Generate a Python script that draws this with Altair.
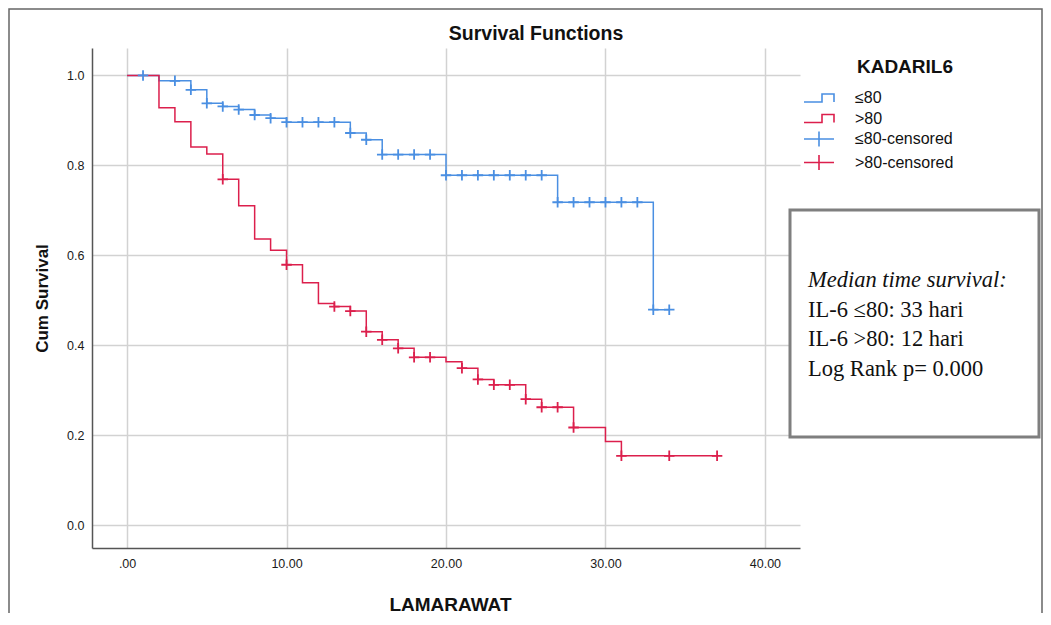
import altair as alt
import pandas as pd

# ---- data ----
blue_time = [0, 2, 4, 5, 6, 7, 8, 9, 10, 14, 15, 16, 20, 27, 33, 34]
blue_surv = [1.0, 0.988, 0.968, 0.938, 0.931, 0.924, 0.912, 0.905, 0.896, 0.872,
             0.857, 0.824, 0.778, 0.718, 0.479, 0.479]
blue_cens_time = [1, 3, 4, 5, 6, 7, 8, 9, 10, 11, 12, 13, 14, 15, 16, 17, 18, 19,
                  20, 21, 22, 23, 24, 25, 26, 27, 28, 29, 30, 31, 32, 33, 34]
blue_cens_surv = [1.0, 0.988, 0.968, 0.938, 0.931, 0.924, 0.912, 0.905, 0.896, 0.896,
                  0.896, 0.896, 0.872, 0.857, 0.824, 0.824, 0.824, 0.824,
                  0.778, 0.778, 0.778, 0.778, 0.778, 0.778, 0.778, 0.718, 0.718, 0.718,
                  0.718, 0.718, 0.718, 0.479, 0.479]

red_time = [0, 2, 3, 4, 5, 6, 7, 8, 9, 10, 11, 12, 13, 14, 15, 16, 17, 18, 20, 21,
            22, 23, 25, 26, 28, 30, 31, 37]
red_surv = [1.0, 0.928, 0.897, 0.841, 0.825, 0.769, 0.710, 0.636, 0.611, 0.579, 0.539,
            0.493, 0.486, 0.476, 0.430, 0.412, 0.393, 0.373, 0.363, 0.349, 0.324, 0.312,
            0.280, 0.262, 0.217, 0.186, 0.154, 0.154]
red_cens_time = [6, 10, 13, 14, 15, 16, 17, 18, 19, 21, 22, 23, 24, 25, 26, 27, 28, 31, 34, 37]
red_cens_surv = [0.769, 0.579, 0.486, 0.476, 0.430, 0.412, 0.393, 0.373, 0.373, 0.349,
                 0.324, 0.312, 0.312, 0.280, 0.262, 0.262, 0.217, 0.154, 0.154, 0.154]

legend_labels = ["≤80", ">80", "≤80-censored", ">80-censored"]
x_ticks = [0, 10, 20, 30, 40]
y_ticks = [0.0, 0.2, 0.4, 0.6, 0.8, 1.0]
box_title = "Median time survival:"
box_lines = ["IL-6 ≤80: 33 hari", "IL-6 >80: 12 hari", "Log Rank p= 0.000"]

# ---- styles ----
BLUE = "#4a8fe2"
RED = "#dc1f4c"
SANS = "Liberation Sans, Arial, sans-serif"
SERIF = "Liberation Serif, Times New Roman, serif"
CROSS = "M-1,0L1,0M0,-1L0,1"
STEP_SYM = "M-1.5,0.4L0.3,0.4L0.3,-0.4L1.5,-0.4L1.5,0.4"
CROSS_SYM = "M-1.5,0L1.5,0M0,-0.75L0,0.75"

W, H = 708, 500

xscale = alt.Scale(domain=[-2.2, 42.2], nice=False, zero=False)
yscale = alt.Scale(domain=[-0.051, 1.061], nice=False, zero=False)

xaxis = alt.Axis(
    values=x_ticks,
    labelExpr="datum.value == 0 ? '.00' : format(datum.value, '.2f')",
    grid=True, ticks=False, labelPadding=9,
    labelFont=SANS, labelFontSize=12.5, labelColor="#1a1a1a",
    title="LAMARAWAT", titleFont=SANS, titleFontSize=19, titleFontWeight="bold",
    titleColor="#111111", titleX=358, titleY=62, titleBaseline="alphabetic",
    titleAlign="center",
)
yaxis = alt.Axis(
    values=y_ticks, format=".1f",
    grid=True, ticks=False, labelPadding=8,
    labelFont=SANS, labelFontSize=12.5, labelColor="#1a1a1a",
    title="Cum Survival", titleFont=SANS, titleFontSize=17, titleFontWeight="bold",
    titleColor="#111111", titleX=-45, titleY=250, titleAngle=270,
    titleBaseline="alphabetic", titleAlign="center",
)


def enc(chart):
    return chart.encode(
        x=alt.X("t:Q", scale=xscale, axis=xaxis),
        y=alt.Y("s:Q", scale=yscale, axis=yaxis),
    )


df_blue = pd.DataFrame({"t": blue_time, "s": blue_surv})
df_red = pd.DataFrame({"t": red_time, "s": red_surv})
df_bc = pd.DataFrame({"t": blue_cens_time, "s": blue_cens_surv})
df_rc = pd.DataFrame({"t": red_cens_time, "s": red_cens_surv})

blue_line = enc(alt.Chart(df_blue).mark_line(interpolate="step-after", color=BLUE, strokeWidth=1.5))
red_line = enc(alt.Chart(df_red).mark_line(interpolate="step-after", color=RED, strokeWidth=1.5))
blue_pts = enc(alt.Chart(df_bc).mark_point(shape=CROSS, filled=False, size=110, strokeWidth=1.8,
                                           color=BLUE, opacity=1))
red_pts = enc(alt.Chart(df_rc).mark_point(shape=CROSS, filled=False, size=110, strokeWidth=1.8,
                                          color=RED, opacity=1))

df_leg = pd.DataFrame({"label": legend_labels})
legend = alt.Legend(
    orient="none", legendX=716, legendY=10, padding=0,
    title="KADARIL6", titleFont=SANS, titleFontSize=19, titleFontWeight="bold",
    titleColor="#111111", titleAnchor="end", titlePadding=10,
    labelFont=SANS, labelFontSize=16, labelColor="#111111", labelOffset=25,
    symbolSize=400, symbolStrokeWidth=1.6, symbolOpacity=1, rowPadding=1.5,
)
legend_layer = alt.Chart(df_leg).mark_point(filled=False, opacity=0).encode(
    color=alt.Color("label:N", scale=alt.Scale(domain=legend_labels, range=[BLUE, RED, BLUE, RED]),
                    legend=legend),
    shape=alt.Shape("label:N", scale=alt.Scale(domain=legend_labels,
                                               range=[STEP_SYM, STEP_SYM, CROSS_SYM, CROSS_SYM]),
                    legend=legend),
)

one = pd.DataFrame({"k": [0]})
title_txt = alt.Chart(one).mark_text(
    text="Survival Functions", font=SANS, fontSize=19.5, fontWeight="bold", color="#111111",
    align="center", baseline="middle",
).encode(x=alt.value(444), y=alt.value(-14))

box = alt.Chart(one).mark_rect(fill="white", stroke="#7f7f7f", strokeWidth=3).encode(
    x=alt.value(698), x2=alt.value(947), y=alt.value(162), y2=alt.value(389)
)
box_head = alt.Chart(one).mark_text(
    text=box_title, font=SERIF, fontSize=22.5, fontStyle="italic", color="#111111",
    align="left", baseline="alphabetic",
).encode(x=alt.value(716), y=alt.value(239))
box_body = alt.Chart(one).mark_text(
    text=box_lines, font=SERIF, fontSize=22.5, color="#111111", lineHeight=29.3,
    align="left", baseline="alphabetic",
).encode(x=alt.value(716), y=alt.value(269))

frame = alt.Chart(one).mark_rect(fill="transparent", stroke="#666666", strokeWidth=1.5).encode(
    x=alt.value(-83), x2=alt.value(950), y=alt.value(-39), y2=alt.value(620)
)

chart = alt.layer(
    blue_line, red_line, blue_pts, red_pts, legend_layer,
    box, box_head, box_body, title_txt, frame,
).properties(
    width=W, height=H,
    autosize=alt.AutoSizeParams(type="none"),
    padding={"left": 84, "top": 40, "right": 243, "bottom": 65},
    background="white",
).configure_view(stroke="transparent").configure_axis(
    gridColor="#d2d2d2", gridWidth=1.5, domainColor="#555555", domainWidth=1.5,
)

chart.save("out.html", embed_options={"renderer": "svg", "actions": False})
